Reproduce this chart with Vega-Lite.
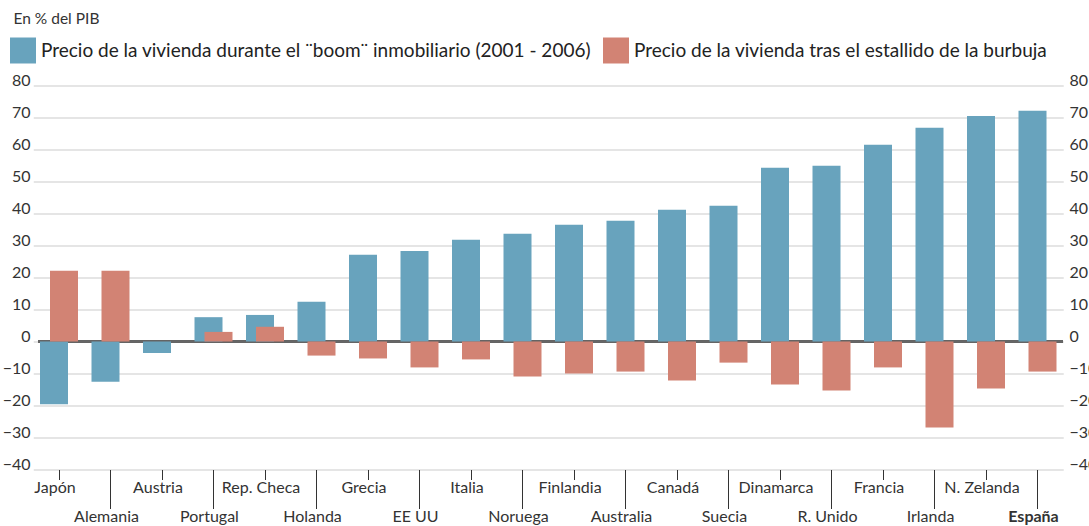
{
  "$schema": "https://vega.github.io/schema/vega-lite/v6.json",
  "width": 1025,
  "height": 384,
  "autosize": {"type": "none"},
  "padding": {"left": 38, "top": 85.5, "right": 26, "bottom": 56.5},
  "background": "#ffffff",
  "config": {
    "view": {"stroke": null},
    "font": "Lato"
  },
  "data": {
    "values": [
      {"pais": "Japón", "boom": -19.6, "tras": 22.1},
      {"pais": "Alemania", "boom": -12.6, "tras": 22.1},
      {"pais": "Austria", "boom": -3.6, "tras": null},
      {"pais": "Portugal", "boom": 7.6, "tras": 3.0},
      {"pais": "Rep. Checa", "boom": 8.3, "tras": 4.6},
      {"pais": "Holanda", "boom": 12.4, "tras": -4.4},
      {"pais": "Grecia", "boom": 27.1, "tras": -5.3},
      {"pais": "EE UU", "boom": 28.3, "tras": -8.1},
      {"pais": "Italia", "boom": 31.8, "tras": -5.6},
      {"pais": "Noruega", "boom": 33.7, "tras": -10.9},
      {"pais": "Finlandia", "boom": 36.5, "tras": -10.0},
      {"pais": "Australia", "boom": 37.7, "tras": -9.4},
      {"pais": "Canadá", "boom": 41.2, "tras": -12.2},
      {"pais": "Suecia", "boom": 42.4, "tras": -6.6},
      {"pais": "Dinamarca", "boom": 54.3, "tras": -13.4},
      {"pais": "R. Unido", "boom": 54.9, "tras": -15.3},
      {"pais": "Francia", "boom": 61.5, "tras": -8.1},
      {"pais": "Irlanda", "boom": 66.8, "tras": -26.9},
      {"pais": "N. Zelanda", "boom": 70.5, "tras": -14.7},
      {"pais": "España", "boom": 72.1, "tras": -9.4}
    ]
  },
  "resolve": {"axis": {"y": "independent"}},
  "layer": [
    {
      "mark": {"type": "rule", "color": "#666666", "strokeWidth": 1.5},
      "encoding": {
        "y": {"datum": 0, "type": "quantitative", "scale": {"domain": [-40, 80], "nice": false, "zero": false}, "axis": null}
      }
    },
    {
      "mark": {"type": "bar", "width": 28, "xOffset": -5},
      "encoding": {
        "x": {
          "field": "pais", "type": "nominal", "sort": null,
          "scale": {"range": [-4.75, 1025.25], "paddingInner": 0, "paddingOuter": 0},
          "axis": {
            "title": null,
            "domain": false,
            "labelAngle": 0,
            "labelFont": "Lato",
            "labelFontSize": 16,
            "labelColor": "#333333",
            "labelBaseline": "top",
            "labelOffset": -4,
            "labelOverlap": false,
            "labelLimit": 0,
            "labelPadding": 0,
            "tickColor": "#333333",
            "tickWidth": 1,
            "tickSize": {"condition": {"test": "indexof(['Alemania','Portugal','Holanda','EE UU','Noruega','Australia','Suecia','R. Unido','Irlanda','España'], datum.value) >= 0", "value": 39}, "value": 10},
            "labelFontWeight": {"condition": {"test": "datum.value === 'España'", "value": "bold"}, "value": "normal"}
          }
        },
        "y": {
          "field": "boom", "type": "quantitative",
          "scale": {"domain": [-40, 80], "nice": false, "zero": false},
          "axis": {
            "title": "En % del PIB",
            "titleAngle": 0,
            "titleAlign": "left",
            "titleBaseline": "alphabetic",
            "titleX": -25,
            "titleY": -62,
            "titleFont": "Lato",
            "titleFontSize": 15.5,
            "titleFontWeight": "normal",
            "titleColor": "#333333",
            "orient": "left",
            "values": [-40, -30, -20, -10, 0, 10, 20, 30, 40, 50, 60, 70, 80],
            "domain": false,
            "ticks": false,
            "grid": true,
            "gridColor": "#dddddd",
            "gridWidth": 1.5,
            "labelFont": "Lato",
            "labelFontSize": 16,
            "labelColor": "#333333",
            "labelBaseline": "alphabetic",
            "labelPadding": 8,
            "labelOverlap": false
          }
        },
        "color": {
          "datum": "Precio de la vivienda durante el ¨boom¨ inmobiliario (2001 - 2006)",
          "type": "nominal",
          "scale": {
            "domain": ["Precio de la vivienda durante el ¨boom¨ inmobiliario (2001 - 2006)", "Precio de la vivienda tras el estallido de la burbuja"],
            "range": ["#68a3bd", "#d28374"]
          },
          "legend": {
            "title": null,
            "orient": "none",
            "direction": "horizontal",
            "legendX": -28,
            "legendY": -48,
            "padding": 0,
            "symbolType": "square",
            "symbolSize": 676,
            "symbolStrokeWidth": 0,
            "symbolOpacity": 1,
            "labelFont": "Lato",
            "labelFontSize": 19,
            "labelColor": "#222222",
            "labelLimit": 0,
            "labelOffset": 5,
            "columnPadding": 12
          }
        }
      }
    },
    {
      "mark": {"type": "bar", "width": 28, "xOffset": 5},
      "encoding": {
        "x": {"field": "pais", "type": "nominal", "sort": null},
        "y": {
          "field": "tras", "type": "quantitative",
          "scale": {"domain": [-40, 80], "nice": false, "zero": false},
          "axis": {
            "title": null,
            "orient": "right",
            "values": [-40, -30, -20, -10, 0, 10, 20, 30, 40, 50, 60, 70, 80],
            "domain": false,
            "ticks": false,
            "grid": false,
            "labelFont": "Lato",
            "labelFontSize": 16,
            "labelColor": "#333333",
            "labelBaseline": "alphabetic",
            "labelPadding": 6,
            "labelOverlap": false
          }
        },
        "color": {"datum": "Precio de la vivienda tras el estallido de la burbuja", "type": "nominal"}
      }
    }
  ]
}
